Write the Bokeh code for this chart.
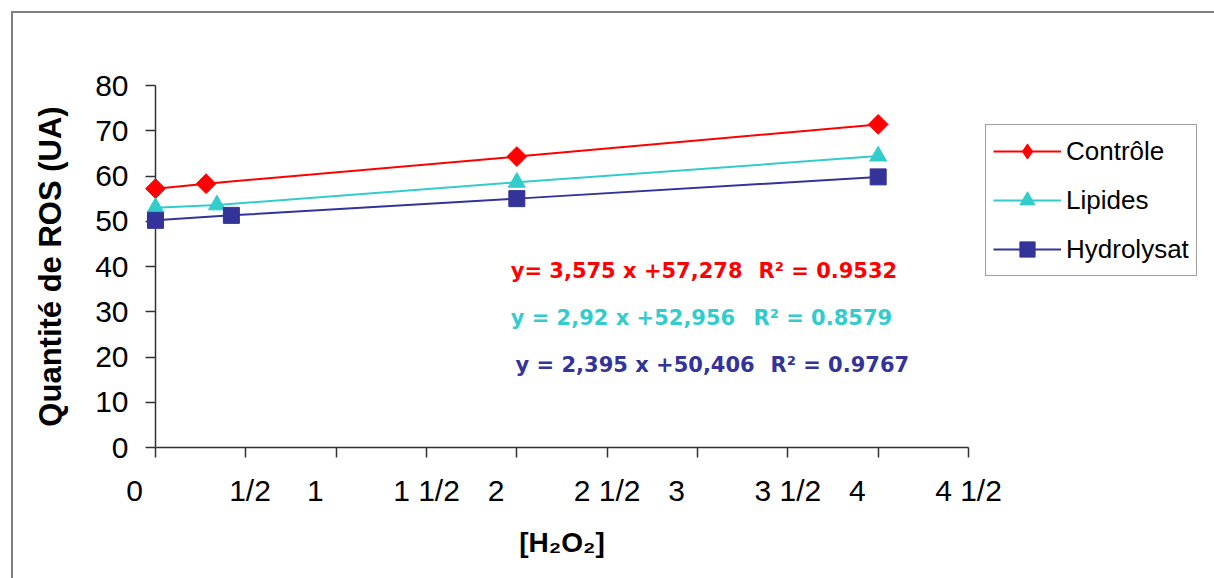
from bokeh.plotting import figure
from bokeh.models import FixedTicker, Legend, LegendItem, Label, Range1d
from bokeh.embed import file_html
from bokeh.resources import INLINE
import math

# ---- data ----
x_ticks = [0, 0.5, 1, 1.5, 2, 2.5, 3, 3.5, 4, 4.5]
x_tick_labels = ["0", "1/2", "1", "1 1/2", "2", "2 1/2", "3", "3 1/2", "4", "4 1/2"]
y_ticks = [0, 10, 20, 30, 40, 50, 60, 70, 80]

series_names = ["Contrôle", "Lipides", "Hydrolysat"]
controle_x = [0.0, 0.28, 2.0, 4.0]
controle_y = [57.2, 58.3, 64.3, 71.4]
lipides_x = [0.0, 0.34, 2.0, 4.0]
lipides_y = [53.0, 53.6, 58.6, 64.4]
hydrolysat_x = [0.0, 0.42, 2.0, 4.0]
hydrolysat_y = [50.2, 51.3, 55.0, 59.8]

equations = ["y= 3,575 x +57,278", "y = 2,92 x +52,956", "y = 2,395 x +50,406"]
r2_texts = ["R² = 0.9532", "R² = 0.8579", "R² = 0.9767"]

colors = ["#FF0000", "#33CCCC", "#333399"]

FONT = "Liberation Sans"
NB = "\u00a0"

p = figure(
    frame_width=813, frame_height=362,
    min_border_left=155, min_border_top=85, min_border_bottom=131, min_border_right=246,
    x_range=Range1d(0, 4.5), y_range=Range1d(0, 80),
    output_backend="svg", toolbar_location=None,
)
p.styles = {"box-shadow": "inset 11px 11px 0 0 #ffffff, inset 13px 13px 0 0 #808080"}
p.border_fill_color = None
p.background_fill_color = "white"
p.outline_line_color = None
p.xgrid.visible = False
p.ygrid.visible = False

# x axis
p.xaxis.ticker = FixedTicker(ticks=x_ticks)
overrides = {}
for t, lab in zip(x_ticks, x_tick_labels):
    if "/" not in lab:
        overrides[t] = lab + NB * 5
    elif lab == "1/2":
        overrides[t] = NB + lab
    else:
        overrides[t] = lab
p.xaxis.major_label_overrides = overrides
p.yaxis.ticker = FixedTicker(ticks=y_ticks)

for ax in (p.xaxis[0], p.yaxis[0]):
    ax.axis_line_color = "#333333"
    ax.axis_line_width = 1.5
    ax.major_tick_line_color = "#333333"
    ax.major_tick_line_width = 1.5
    ax.major_tick_in = 0
    ax.major_tick_out = 10
    ax.minor_tick_line_color = None
    ax.major_label_text_font = FONT
    ax.major_label_text_font_size = "30px"
    ax.major_label_text_color = "black"
    ax.axis_label_text_font = FONT
    ax.axis_label_text_font_style = "bold"
    ax.axis_label_text_color = "black"

p.yaxis.major_label_standoff = 17
p.yaxis.axis_label = "Quantité de ROS (UA)"
p.yaxis.axis_label_text_font_size = "31px"
p.yaxis.axis_label_standoff = 24

p.xaxis.major_label_standoff = 16
p.xaxis.axis_label = "[H\u2082O\u2082]"
p.xaxis.axis_label_text_font_size = "28px"
p.xaxis.axis_label_standoff = 17

# series
series = [
    (controle_x, controle_y, "square", math.pi / 4, 14, "diamond"),
    (lipides_x, lipides_y, "triangle", 0.0, 17, None),
    (hydrolysat_x, hydrolysat_y, "square", 0.0, 16, None),
]
items = []
for (xs, ys, marker, ang, sz, leg_marker), name, col in zip(series, series_names, colors):
    ln = p.line(xs, ys, line_color=col, line_width=2)
    sc = p.scatter(xs, ys, marker=marker, angle=ang, size=sz,
                   fill_color=col, line_color=col, level="overlay")
    if leg_marker is not None:
        # small same-colour diamond hidden under the plotted marker;
        # it gives the legend its diamond swatch
        sw = p.scatter(xs, ys, marker=leg_marker, size=4,
                       fill_color=col, line_color=col)
        items.append(LegendItem(label=name, renderers=[ln, sw]))
    else:
        items.append(LegendItem(label=name, renderers=[ln, sc]))

legend = Legend(
    items=items, location=(17, 171),
    label_text_font=FONT, label_text_font_size="26px", label_text_color="black",
    glyph_width=68, glyph_height=38, label_height=38, spacing=11,
    padding=7, label_standoff=5, margin=0,
    border_line_color="#404040", border_line_width=1.5,
    background_fill_color="white", background_fill_alpha=1.0,
)
p.add_layout(legend, "right")

# regression annotations
eq_pos = [(1.966, 39.1), (1.966, 28.6), (1.993, 18.2)]
r2_pos = [(3.338, 39.1), (3.31, 28.6), (3.404, 18.2)]
for eq, r2, col, (ex, ey), (rx, ry) in zip(equations, r2_texts, colors, eq_pos, r2_pos):
    for txt, (tx, ty) in ((eq, (ex, ey)), (r2, (rx, ry))):
        p.add_layout(Label(x=tx, y=ty, text=txt, text_color=col,
                           text_font="DejaVu Sans", text_font_style="bold",
                           text_font_size="21px", text_baseline="middle",
                           text_align="left"))

open("out.html", "w").write(file_html(p, INLINE))
